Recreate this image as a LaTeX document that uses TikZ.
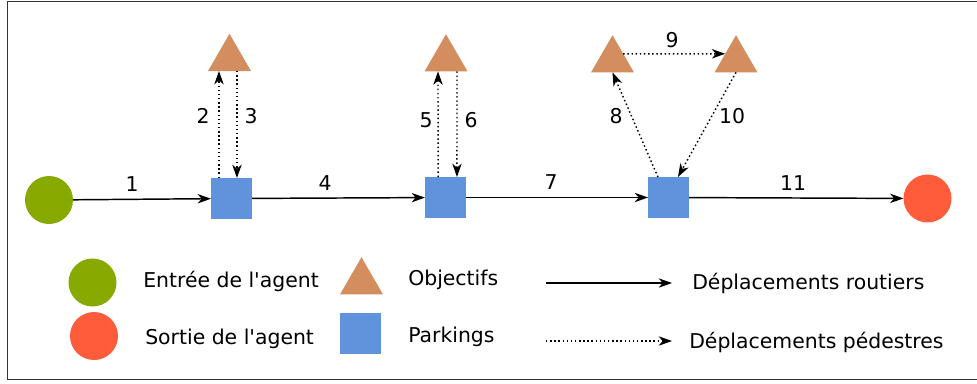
\documentclass[tikz,border=0pt]{standalone}
\usepackage{fontspec}
\setmainfont{DejaVu Sans}
\usepackage{tikz}
\usetikzlibrary{shapes.geometric}
\usetikzlibrary{arrows.meta}

\definecolor{entryc}{HTML}{88AA00}
\definecolor{exitc}{HTML}{FF5C3C}
\definecolor{goalc}{HTML}{D38D5F}
\definecolor{parkc}{HTML}{5F94DD}

\begin{document}
\begin{tikzpicture}[x=0.75pt, y=-0.75pt,
    font=\fontsize{15.3}{18}\selectfont,
    entry/.style={circle, fill=entryc, inner sep=0, outer sep=0, minimum size=36pt},
    exitpt/.style={circle, fill=exitc, inner sep=0, outer sep=0, minimum size=36pt},
    goal/.style={regular polygon, regular polygon sides=3, fill=goalc, inner sep=0, outer sep=0, minimum size=37.2pt},
    park/.style={rectangle, fill=parkc, inner sep=0, outer sep=0, minimum size=30.75pt},
    road/.style={line width=1.1pt, arrows = {-Stealth[width=7pt, length=10pt, inset=3pt]}},
    walk/.style={line width=1.1pt, dotted, arrows = {-Stealth[width=7pt, length=10pt, inset=3pt]}},
    lbl/.style={anchor=base, inner sep=0}]
    \useasboundingbox (0, 0) rectangle (977, 383);
    \draw[line width=1.2pt, black!80] (977, 1.5) -- (7.5, 1.5) -- (7.5, 379.5) -- (977, 379.5);

    \node[entry] (in) at (49, 200) {};
    \node[park] (p1) at (231.5, 198.5) {};
    \node[park] (p2) at (445.5, 197.5) {};
    \node[park] (p3) at (668.5, 197.5) {};
    \node[exitpt] (out) at (927.5, 198.5) {};
    \node[goal] (o1) at (229.5, 58.6) {};
    \node[goal] (o2) at (446, 59) {};
    \node[goal] (o3) at (612.5, 60) {};
    \node[goal] (o4) at (736, 60) {};

    \draw[road] (in) -- (p1);
    \draw[road] (p1) -- (p2);
    \draw[road] (p2) -- (p3);
    \draw[road] (p3) -- (out);
    \draw[walk] ([xshift=-9.4pt]p1.north) -- ([xshift=-7.9pt]o1.south);
    \draw[walk] ([xshift=5.6pt]o1.south) -- ([xshift=4.1pt]p1.north);
    \draw[walk] ([xshift=-5.6pt]p2.north) -- ([xshift=-6pt]o2.south);
    \draw[walk] ([xshift=8.25pt]o2.south) -- ([xshift=8.6pt]p2.north);
    \draw[walk] ([xshift=-7.9pt]p3.north) -- (o3.south);
    \draw[walk] (o3.30) -- (o4.150);
    \draw[walk] (o4.south) -- ([xshift=7.1pt]p3.north);

    \node[lbl] (n1) at (132, 191) {1};
    \node[lbl] (n2) at (203, 123) {2};
    \node[lbl] (n3) at (251, 123) {3};
    \node[lbl] (n4) at (325, 190) {4};
    \node[lbl] (n5) at (426, 127) {5};
    \node[lbl] (n6) at (471, 127) {6};
    \node[lbl] (n7) at (551, 189) {7};
    \node[lbl] (n8) at (616, 123) {8};
    \node[lbl] (n9) at (672, 47) {9};
    \node[lbl] (n10) at (732, 123) {10};
    \node[lbl] (n11) at (793, 190) {11};

    \node[entry] (kin) at (92.5, 282.5) {};
    \node[exitpt] (kout) at (94, 336) {};
    \node[goal] (kgoal) at (361.5, 282) {};
    \node[park] (kpark) at (360.5, 333.5) {};
    \node[anchor=base west, inner sep=0] (tin) at (143, 287.5) {Entrée de l\textquotesingle agent};
    \node[anchor=base west, inner sep=0] (tout) at (145, 344) {Sortie de l\textquotesingle agent};
    \node[anchor=base west, inner sep=0] (tgoal) at (408, 285) {Objectifs};
    \node[anchor=base west, inner sep=0] (tpark) at (408, 342) {Parkings};
    \node[anchor=base west, inner sep=0] (troad) at (692, 289) {Déplacements routiers};
    \node[anchor=base west, inner sep=0] (twalk) at (689, 348) {Déplacements pédestres};
    \coordinate (r0) at (546, 283);
    \coordinate (r1) at (672, 283);
    \coordinate (w0) at (546, 341);
    \coordinate (w1) at (672, 341);
    \draw[road, line width=0.8pt] (r0) -- (r1);
    \draw[walk, line width=0.8pt] (w0) -- (w1);
\end{tikzpicture}
\end{document}
